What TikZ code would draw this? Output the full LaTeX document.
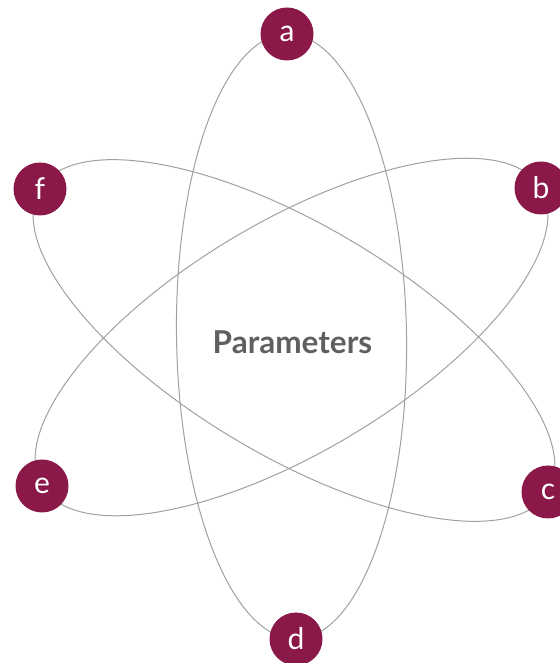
\documentclass[tikz,border=0pt]{standalone}
\usepackage{fontspec}
\setmainfont{Lato}
\usepackage{tikz}
\usetikzlibrary{positioning, calc}

\definecolor{berry}{RGB}{138,24,72}
\definecolor{orbitgray}{RGB}{160,160,160}
\definecolor{textgray}{RGB}{96,96,96}

\begin{document}
\begin{tikzpicture}[x=1pt, y=1pt]
        % Define block styles
        \tikzstyle{param} = [circle, fill=berry, text=white, minimum size=53pt, inner sep=0pt, font=\fontsize{30}{32}\selectfont]
        \tikzstyle{orbit} = [draw=orbitgray, line width=1pt]

        \useasboundingbox (0,0) rectangle (559,663);

        % Place nodes
        \node [font=\fontsize{31.5}{34}\selectfont\bfseries, text=textgray] (center) at (292.5,321) {Parameters};
        \coordinate (a) at (287,629);
        \coordinate (b) at (541,475);
        \coordinate (c) at (548,171);
        \coordinate (d) at (296,24);
        \coordinate (e) at (42,177);
        \coordinate (f) at (40,474);
        \coordinate (ad) at ($(a)!0.5!(d)$);
        \coordinate (fc) at ($(f)!0.5!(c)$);
        \coordinate (eb) at ($(e)!0.5!(b)$);

        % Draw the orbits
        \draw [orbit, rotate around={90.85:(ad)}] (ad) ellipse (302.5 and 115);
        \draw [orbit, rotate around={-30.8:(fc)}] (fc) ellipse (295.8 and 115);
        \draw [orbit, rotate around={30.85:(eb)}] (eb) ellipse (290.6 and 115);

        % Add the parameter circles
        \node [param] (pa) at (a) {a};
        \node [param] (pb) at (b) {b};
        \node [param] (pc) at (c) {c};
        \node [param] (pd) at (d) {d};
        \node [param] (pe) at (e) {e};
        \node [param] (pf) at (f) {f};

    \end{tikzpicture}
\end{document}
